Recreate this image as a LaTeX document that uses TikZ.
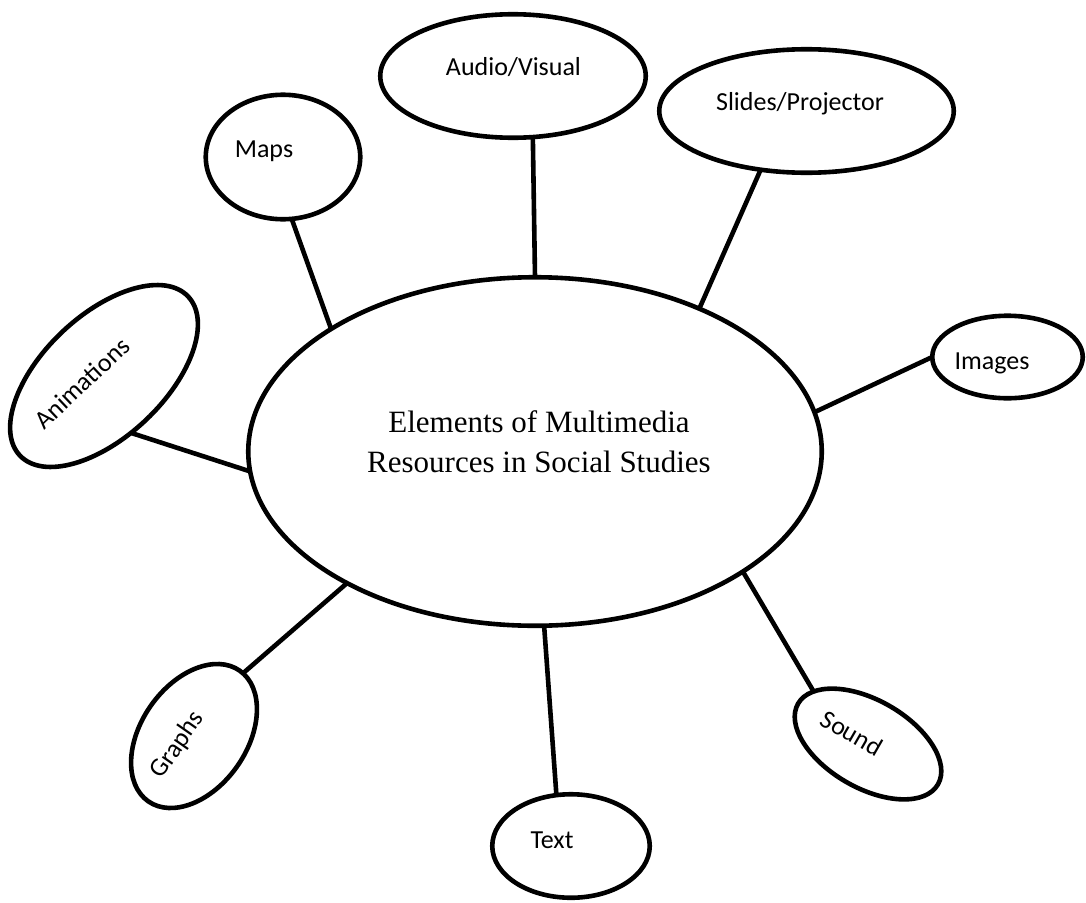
\documentclass[tikz,border=0pt]{standalone}
\usepackage{fontspec}
\setmainfont{Liberation Serif}
\newfontfamily\calibri{Carlito}
\usetikzlibrary{shapes.geometric}
\begin{document}
\begin{tikzpicture}[x=1pt,y=-1pt,
  bub/.style={ellipse, draw, line width=4.6pt, inner sep=0pt, outer sep=0pt},
  lbl/.style={font=\calibri\fontsize{26}{31}\selectfont, inner sep=0pt},
  link/.style={line width=4.6pt}]
\useasboundingbox (0,0) rectangle (1086,902);
% central
\node[bub, minimum width=573.5pt, minimum height=348.5pt] (c) at (535,451.5) {};
\node[font=\fontsize{31}{40}\selectfont, align=center, inner sep=0pt] (cT) at (539,442)
  {Elements of Multimedia\\Resources in Social Studies};
% satellites
\node[bub, minimum width=265.5pt, minimum height=123.5pt] (av) at (513,76) {};
\node[lbl] (avT) at (513.5,67) {Audio/Visual};
\node[bub, minimum width=154.5pt, minimum height=124.5pt] (maps) at (283,157) {};
\node[lbl] (mapsT) at (264,151) {Maps};
\node[bub, minimum width=294.5pt, minimum height=123.5pt] (slides) at (806.5,111) {};
\node[lbl] (slidesT) at (800,104) {Slides/Projector};
\node[bub, minimum width=150.5pt, minimum height=82.5pt] (img) at (1007.5,357) {};
\node[lbl] (imgT) at (992,363) {Images};
\node[bub, minimum width=231.5pt, minimum height=121.5pt, rotate=43.4] (anim) at (104,376) {};
\node[lbl, rotate=43.4] (animT) at (82,383) {Animations};
\node[bub, minimum width=159.5pt, minimum height=105.5pt, rotate=55] (graphs) at (194,736) {};
\node[lbl, rotate=55] (graphsT) at (177.5,745) {Graphs};
\node[bub, minimum width=161.5pt, minimum height=87.5pt, rotate=-30] (sound) at (868,744) {};
\node[lbl, rotate=-30] (soundT) at (852,733) {Sound};
\node[bub, minimum width=157.5pt, minimum height=103.5pt] (txt) at (571,846) {};
\node[lbl] (txtT) at (552,840) {Text};
% connectors
\draw[link] (c.149.7) -- (maps.-82.3);
\draw[link] (c.90.6) -- (av.-72.6);
\draw[link] (c.41.6) -- (slides.-128.7);
\draw[link] (c.8.8) -- (img.180);
\draw[link] (c.184.7) -- (anim.-108.7);
\draw[link] (c.215.1) -- (graphs.-3.6);
\draw[link] (c.273.9) -- (txt.106.9);
\draw[link] (c.-30.8) -- (sound.166);
\end{tikzpicture}
\end{document}
